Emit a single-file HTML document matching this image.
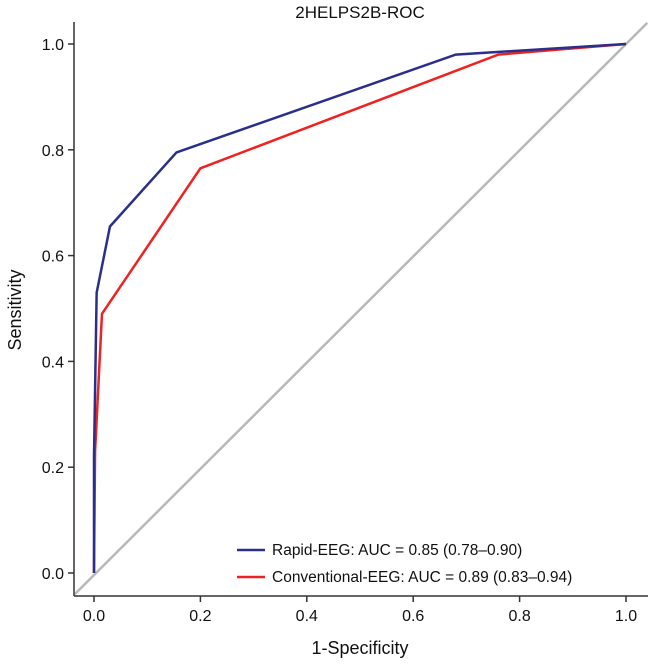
<!DOCTYPE html>
<html><head><meta charset="utf-8"><style>
body{margin:0;background:#fff;}
text{font-family:"Liberation Sans",sans-serif;fill:#111;}
</style></head><body>
<svg id="c" width="651" height="662"></svg>
<script>
const xTicks=[0,0.2,0.4,0.6,0.8,1.0];
const yTicks=[0,0.2,0.4,0.6,0.8,1.0];
const rapidX=[0,0,0.005,0.03,0.155,0.68,1];
const rapidY=[0,0.22,0.53,0.655,0.795,0.98,1];
const convX=[0,0.002,0.015,0.2,0.76,1];
const convY=[0,0.23,0.49,0.765,0.98,1];
const seriesNames=["Rapid-EEG: AUC = 0.85 (0.78–0.90)","Conventional-EEG: AUC = 0.89 (0.83–0.94)"];
const seriesColors=["#2b2f8a","#ee2222"];
const sx=v=>94+v*532, sy=v=>573-v*529;
const svg=document.getElementById('c');const NS='http://www.w3.org/2000/svg';
function mk(t,a,p){const e=document.createElementNS(NS,t);for(const k in a)e.setAttribute(k,a[k]);(p||svg).appendChild(e);return e;}
let e;
e=mk('line',{x1:sx(-0.036),y1:sy(-0.04),x2:sx(1.04),y2:sy(1.04),stroke:'#b8b8b8','stroke-width':2.5});


e=mk('line',{x1:74,y1:22,x2:74,y2:596,stroke:'#333','stroke-width':1.5});


e=mk('line',{x1:74,y1:596,x2:648,y2:596,stroke:'#333','stroke-width':1.5});


xTicks.forEach(v=>{mk('line',{x1:sx(v),y1:596,x2:sx(v),y2:602,stroke:'#333','stroke-width':1.5});
e=mk('text',{x:sx(v),y:621,'text-anchor':'middle','font-size':16});e.textContent=v.toFixed(1);

});
yTicks.forEach(v=>{mk('line',{x1:68,y1:sy(v),x2:74,y2:sy(v),stroke:'#333','stroke-width':1.5});
e=mk('text',{x:64,y:sy(v)+6,'text-anchor':'end','font-size':16});e.textContent=v.toFixed(1);

});
function poly(xs,ys,c,n){const p=xs.map((x,i)=>sx(x)+','+sy(ys[i])).join(' ');
const el=mk('polyline',{points:p,fill:'none',stroke:c,'stroke-width':2.5,'stroke-linejoin':'miter'});

}
poly(convX,convY,seriesColors[1],'conventional-eeg-line');
poly(rapidX,rapidY,seriesColors[0],'rapid-eeg-line');
seriesNames.forEach((s,i)=>{const y=550+i*27;
mk('line',{x1:237,y1:y,x2:265,y2:y,stroke:seriesColors[i],'stroke-width':2.5});
const t=mk('text',{x:272,y:y+5,'font-size':15.5});t.textContent=s;

});
e=mk('text',{x:360,y:18,'text-anchor':'middle','font-size':17});e.textContent='2HELPS2B-ROC';


e=mk('text',{x:360,y:654,'text-anchor':'middle','font-size':18});e.textContent='1-Specificity';


e=mk('text',{x:0,y:0,'text-anchor':'middle','font-size':18,transform:'translate(21,310) rotate(-90)'});e.textContent='Sensitivity';


</script>
</body></html>
